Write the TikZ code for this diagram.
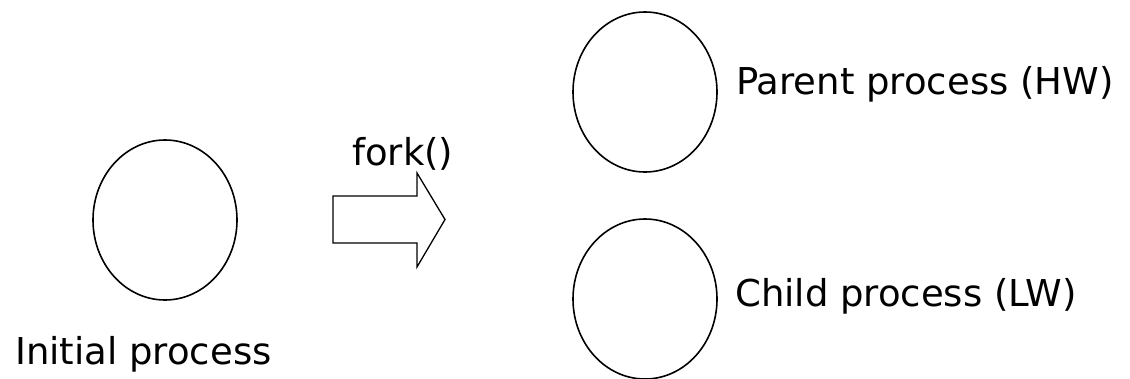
\documentclass[tikz,border=0pt]{standalone}
\usepackage{fontspec}
\setmainfont{DejaVu Sans}
\usetikzlibrary{shapes.geometric}
\begin{document}
\begin{tikzpicture}[x=1pt,y=-1pt,
  proc/.style={draw=black,line width=1.6pt,ellipse,minimum width=144pt,minimum height=160pt,inner sep=0pt},
  lbl/.style={anchor=base west,inner sep=0pt,font=\fontsize{37}{40}\selectfont},
  blockarrow/.style={draw=black,line width=1.3pt,line join=miter}]
\useasboundingbox (0,0) rectangle (1130,378);
\fill[white] (0,0) rectangle (1130,378);

% processes
\node[proc] (init) at (165,220) {};
\node[proc] (parent) at (645,92) {};
\node[proc] (child) at (645,299) {};

% labels
\node[lbl] (initlbl) at (15,364) {Initial process};
\node[lbl] (parentlbl) at (736,94) {Parent process (HW)};
\node[lbl] (childlbl) at (735,306) {Child process (LW)};
\node[lbl] (forklbl) at (352,165) {fork()};

% fork arrow: shaft corners, head corners and tip
\coordinate (shafttl) at (333,196);
\coordinate (shaftbl) at (333,243);
\coordinate (tip) at (445,219.5);
\draw[blockarrow] (shafttl) -- (417,196) -- (417,173) -- (tip)
  -- (417,267) -- (417,243) -- (shaftbl) -- cycle;
\end{tikzpicture}
\end{document}
